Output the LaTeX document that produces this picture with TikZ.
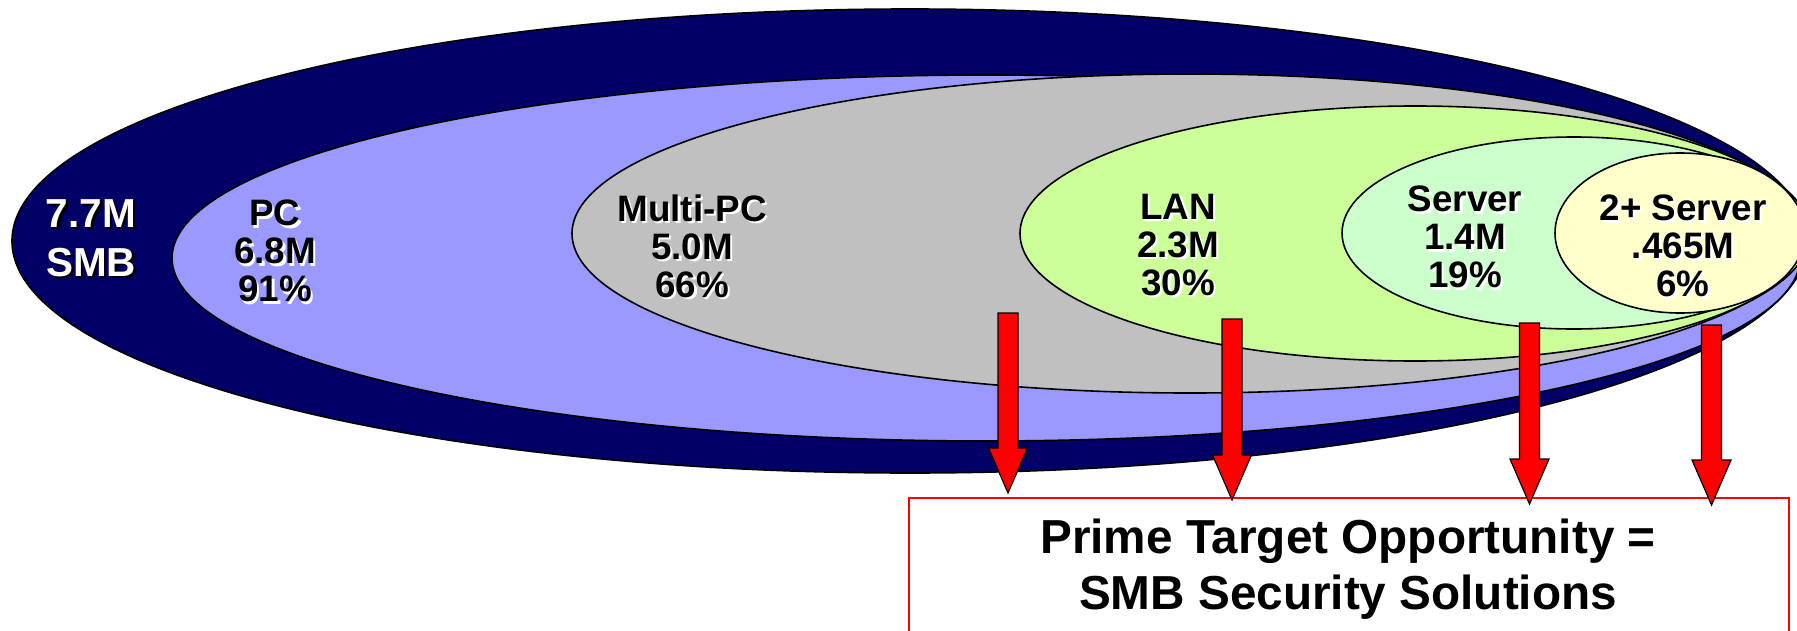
\documentclass[tikz,border=0pt]{standalone}
\usepackage{fontspec}
\setmainfont{Liberation Sans}
\usetikzlibrary{calc}

\definecolor{smbnavy}{HTML}{000066}
\definecolor{pcfill}{HTML}{9999FF}
\definecolor{multifill}{HTML}{C0C0C0}
\definecolor{lanfill}{HTML}{CCFF99}
\definecolor{serverfill}{HTML}{CCFFCC}
\definecolor{twofill}{HTML}{FFFFCC}
\definecolor{alertred}{HTML}{FF0000}

% label with a small offset shadow behind it
\newcommand\shadowlabel[6]{%
  \node[#3, text=#5] (#1-shadow) at ($(#2)+(2.5,2.5)$) {#6};
  \node[#3, text=#4] (#1) at (#2) {#6};}

% block arrow from the top of its shaft (#1) down to its tip (#2)
\newcommand\blockarrow[2]{%
  \draw[arrowbody] ($(#1)+(-10,0)$) -- ($(#2)+(-10,-45)$) -- ($(#2)+(-19.5,-45)$)
    -- (#2) -- ($(#2)+(19.5,-45)$) -- ($(#2)+(10,-45)$) -- ($(#1)+(10,0)$) -- cycle;}

\begin{document}
\begin{tikzpicture}[x=0.5pt,y=-0.5pt,
  setring/.style={draw=black, line width=0.8pt},
  lbl/.style={align=center, inner sep=0pt, font=\fontsize{18.4}{19}\selectfont\bfseries},
  biglbl/.style={align=center, inner sep=0pt, font=\fontsize{20.25}{24.5}\selectfont\bfseries},
  targetlbl/.style={align=center, inner sep=0pt, font=\fontsize{23.85}{28}\selectfont\bfseries},
  arrowbody/.style={fill=alertred, draw=black, line width=0.6pt, line join=miter},
  targetbox/.style={draw=alertred, line width=1pt, inner sep=0pt, minimum width=440pt, minimum height=110pt}
]
\useasboundingbox (0,0) rectangle (1797,631);
\clip (0,0) rectangle (1797,631);
\fill[white] (0,0) rectangle (1797,631);

% nested market segments
\filldraw[setring, fill=smbnavy]   (910,241)    ellipse [x radius=898, y radius=232];
\filldraw[setring, fill=pcfill]    (986,258)    ellipse [x radius=814, y radius=183];
\filldraw[setring, fill=multifill] (1190,233.5) ellipse [x radius=618, y radius=159.5];
\filldraw[setring, fill=lanfill]   (1415,233.5) ellipse [x radius=395, y radius=127.5];
\filldraw[setring, fill=serverfill](1574,233)   ellipse [x radius=232, y radius=96];
\filldraw[setring, fill=twofill]   (1680,233)   ellipse [x radius=125, y radius=80];

% segment labels
\shadowlabel{smb}{91,238}{biglbl}{white}{black}{7.7M\\SMB}
\shadowlabel{pc}{275,251}{lbl}{black}{white}{PC\\6.8M\\91\%}
\shadowlabel{multi}{692,246}{lbl}{black}{white}{Multi-PC\\5.0M\\66\%}
\shadowlabel{lan}{1178,245}{lbl}{black}{white}{LAN\\2.3M\\30\%}
\shadowlabel{server}{1465,237}{lbl}{black}{white}{Server\\1.4M\\19\%}
\shadowlabel{twoserver}{1683,246}{lbl}{black}{white}{2+ Server\\.465M\\6\%}

% target box
\node[targetbox, anchor=north west] (target) at (908,497) {};
\node[targetlbl] (targettext) at (1348,569) {Prime Target Opportunity =\\SMB Security Solutions};

% arrows from the segments down to the box
\coordinate (a1) at (1008,313);   \coordinate (t1) at (1008,493);
\coordinate (a2) at (1232,319);   \coordinate (t2) at (1232,500);
\coordinate (a3) at (1529.5,323); \coordinate (t3) at (1529.5,504);
\coordinate (a4) at (1711.5,325); \coordinate (t4) at (1711.5,505);
\blockarrow{a1}{t1}
\blockarrow{a2}{t2}
\blockarrow{a3}{t3}
\blockarrow{a4}{t4}
\end{tikzpicture}
\end{document}
